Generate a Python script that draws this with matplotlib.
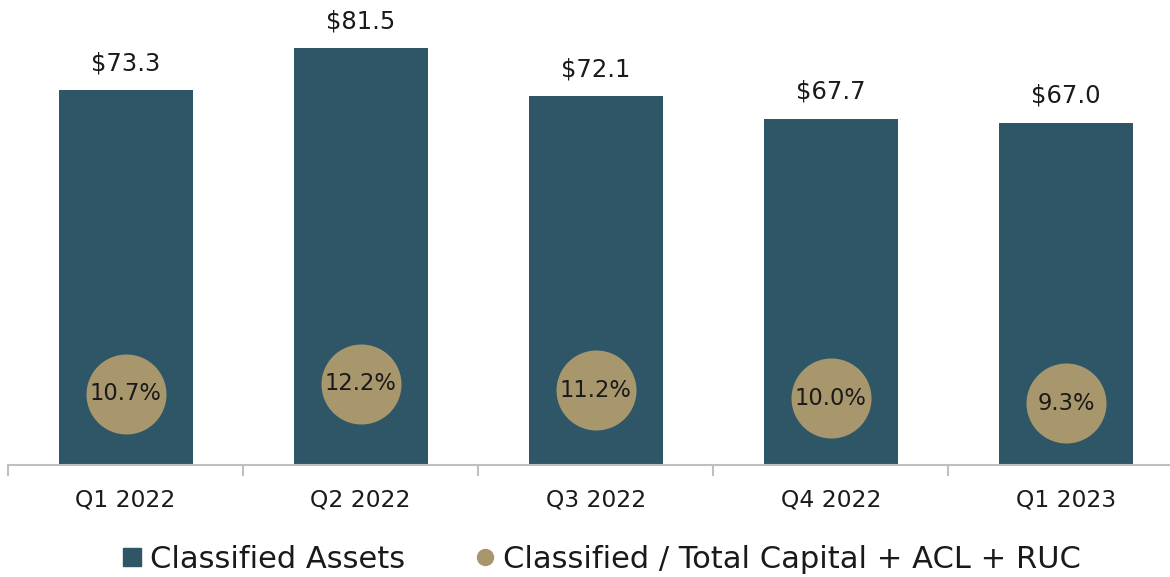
import matplotlib
matplotlib.use("Agg")
import matplotlib.pyplot as plt
from matplotlib.lines import Line2D

# data
quarters = ["Q1 2022", "Q2 2022", "Q3 2022", "Q4 2022", "Q1 2023"]
classified_assets = [73.3, 81.5, 72.1, 67.7, 67.0]
classified_ratio = [10.7, 12.2, 11.2, 10.0, 9.3]

bar_color = "#2e5667"
dot_color = "#a8976d"
text_color = "#1a1a1a"

plt.rcParams["font.family"] = "DejaVu Sans"

fig = plt.figure(figsize=(11.7, 5.77), dpi=100)
# axes run a bit past the right edge, like the original crop
ax = fig.add_axes([8 / 1170, 112 / 577, 1175.5 / 1170, 460 / 577])

x = list(range(len(quarters)))
bars = ax.bar(x, classified_assets, width=0.57, color=bar_color, zorder=2)
ax.set_xlim(-0.5, len(quarters) - 0.5)
ax.set_ylim(0, 90)

for xi, v in zip(x, classified_assets):
    ax.annotate(f"${v:.1f}", (xi, v), xytext=(0, 14.5), textcoords="offset points",
                ha="center", va="baseline", fontsize=17.5, color=text_color)

# axis styling
for s in ["top", "left", "right"]:
    ax.spines[s].set_visible(False)
ax.spines["bottom"].set_color("#bfbfbf")
ax.spines["bottom"].set_linewidth(1.5)
ax.set_yticks([])
ax.set_xticks(x)
ax.set_xticklabels(quarters, fontsize=16.8, color=text_color)
ax.tick_params(axis="x", which="major", length=0, pad=17)
ax.set_xticks([i - 0.5 for i in range(len(quarters) + 1)], minor=True)
ax.tick_params(axis="x", which="minor", length=8, width=1.5, color="#bfbfbf", direction="out")

# secondary axis for the ratio dots
ax2 = ax.twinx()
ax2.set_ylim(0, 69)
ax2.axis("off")
ax2.plot(x, classified_ratio, linestyle="none", marker="o", markersize=57.6,
         color=dot_color, markeredgewidth=0, zorder=3)
for xi, v in zip(x, classified_ratio):
    ax2.text(xi, v, f"{v:.1f}%", ha="center", va="center", fontsize=16.3,
             color=text_color, zorder=4)

handles = [
    Line2D([], [], linestyle="none", marker="s", markersize=12.5, color=bar_color),
    Line2D([], [], linestyle="none", marker="o", markersize=11.5, color=dot_color),
]
fig.legend(handles, ["Classified Assets", "Classified / Total Capital + ACL + RUC"],
           loc="center", bbox_to_anchor=(602 / 1170, 18 / 577), ncol=2, frameon=False,
           fontsize=22, handlelength=0.6, handletextpad=0.3, columnspacing=2.3,
           borderpad=0, labelcolor=text_color)

fig.savefig("out.png", dpi=100)
